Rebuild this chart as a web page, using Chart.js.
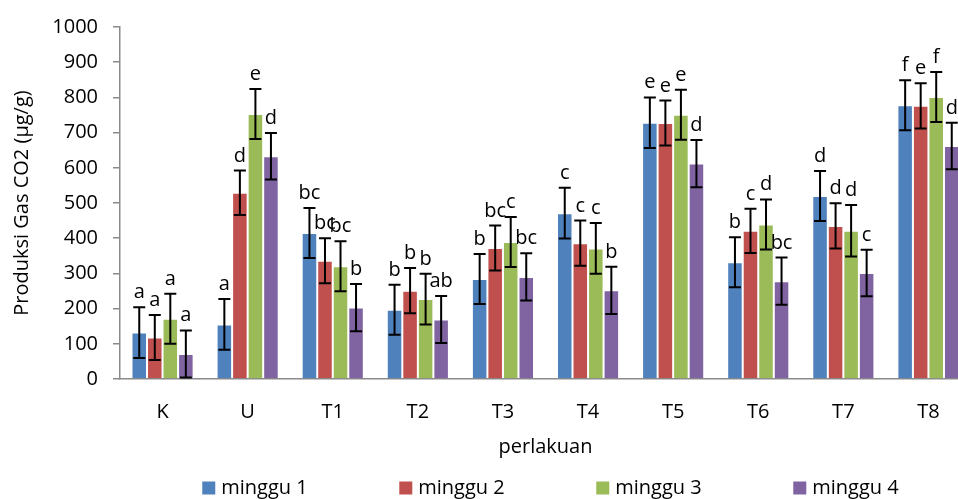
<!DOCTYPE html>
<html>
<head>
<meta charset="utf-8">
<script src="https://cdn.jsdelivr.net/npm/chart.js@4"></script>
<style>
  html, body { margin: 0; padding: 0; background: #fff; overflow: hidden; }
  #wrap { width: 972px; height: 499px; }
</style>
</head>
<body>
<div id="wrap"><canvas id="chart" width="972" height="499"></canvas></div>
<script>
const categories = ['K', 'U', 'T1', 'T2', 'T3', 'T4', 'T5', 'T6', 'T7', 'T8'];
const seriesNames = ['minggu 1', 'minggu 2', 'minggu 3', 'minggu 4'];

const minggu1 = [132, 155, 415, 197, 284, 471, 728, 332, 520, 778];
const minggu2 = [118, 529, 336, 251, 372, 386, 727, 421, 435, 776];
const minggu3 = [171, 753, 320, 227, 389, 371, 751, 439, 421, 801];
const minggu4 = [71, 633, 203, 169, 290, 252, 612, 278, 301, 662];

// error bar half-lengths (+/-)
const err1 = [72, 72, 71, 71, 71, 72, 72, 71, 71, 71];
const err2 = [64, 63, 64, 64, 64, 64, 64, 63, 64, 64];
const err3 = [71, 71, 71, 72, 71, 72, 71, 71, 73, 71];
const err4 = [67, 66, 67, 67, 67, 67, 67, 67, 66, 66];

// notation letters above each bar
const letters1 = ['a', 'a', 'bc', 'b', 'b', 'c', 'e', 'b', 'd', 'f'];
const letters2 = ['a', 'd', 'bc', 'b', 'bc', 'c', 'e', 'c', 'd', 'e'];
const letters3 = ['a', 'e', 'bc', 'b', 'c', 'c', 'e', 'd', 'd', 'f'];
const letters4 = ['a', 'd', 'b', 'ab', 'bc', 'b', 'd', 'bc', 'c', 'd'];

const yTicks = [0, 100, 200, 300, 400, 500, 600, 700, 800, 900, 1000];

const colors = ['#4F81BD', '#C0504D', '#9BBB59', '#8064A2'];
const values = [minggu1, minggu2, minggu3, minggu4];
const errors = [err1, err2, err3, err4];
const letters = [letters1, letters2, letters3, letters4];

const FONT = '"Open Sans", "Noto Sans", sans-serif';
const FS = 20;

// Error bars + letters
const errorBarPlugin = {
    id: 'errorBars',
    afterDatasetsDraw(chart) {
        const ctx = chart.ctx;
        const y = chart.scales.y;
        ctx.save();
        chart.data.datasets.forEach((ds, di) => {
            const meta = chart.getDatasetMeta(di);
            meta.data.forEach((bar, i) => {
                const v = ds.data[i];
                const e = errors[di][i];
                const top = y.getPixelForValue(v + e);
                const bot = y.getPixelForValue(Math.max(v - e, 0));
                const x = bar.x;
                ctx.strokeStyle = '#000';
                ctx.lineWidth = 2;
                ctx.beginPath();
                ctx.moveTo(x, top); ctx.lineTo(x, bot);
                ctx.moveTo(x - 6, top); ctx.lineTo(x + 6, top);
                ctx.moveTo(x - 6, bot); ctx.lineTo(x + 6, bot);
                ctx.stroke();
                ctx.fillStyle = '#000';
                ctx.font = FS + 'px ' + FONT;
                ctx.textAlign = 'center';
                ctx.textBaseline = 'alphabetic';
                ctx.fillText(letters[di][i], x, top - 9);
            });
        });
        ctx.restore();
    }
};

// Excel-like wide legend under the axis title
const legendPlugin = {
    id: 'wideLegend',
    afterDraw(chart) {
        const ctx = chart.ctx;
        const area = chart.chartArea;
        const stride = 197;
        const box = 13;
        ctx.save();
        ctx.font = FS + 'px ' + FONT;
        const lastW = box + 6 + ctx.measureText(seriesNames[3]).width;
        const total = stride * 3 + lastW;
        let x = (area.left + area.right) / 2 + 5 - total / 2;
        const cy = 488;
        seriesNames.forEach((name, i) => {
            ctx.fillStyle = colors[i];
            ctx.fillRect(x, cy - box / 2, box, box);
            ctx.fillStyle = '#000';
            ctx.textAlign = 'left';
            ctx.textBaseline = 'middle';
            ctx.fillText(name, x + box + 6, cy);
            x += stride;
        });
        ctx.restore();
    }
};

new Chart(document.getElementById('chart'), {
    type: 'bar',
    data: {
        labels: categories,
        datasets: seriesNames.map((name, i) => ({
            label: name,
            data: values[i],
            backgroundColor: colors[i],
            borderColor: 'rgba(255,255,255,0.35)',
            borderWidth: 1,
            barPercentage: 1,
            categoryPercentage: 0.73,
        })),
    },
    options: {
        responsive: false,
        animation: false,
        layout: { padding: { top: 23, right: 1, bottom: 40, left: 0 } },
        plugins: { legend: { display: false }, tooltip: { enabled: false } },
        scales: {
            x: {
                grid: { display: false, drawTicks: false },
                border: { display: true, color: '#8a8a8a', width: 1.5 },
                ticks: { color: '#000', font: { family: FONT, size: FS }, padding: 21, maxRotation: 0 },
                title: { display: true, text: 'perlakuan', color: '#000', font: { family: FONT, size: FS }, padding: { top: 0, bottom: 0 } },
                afterFit(scale) { scale.height = 80; },
            },
            y: {
                min: 0,
                max: 1000,
                afterBuildTicks(scale) { scale.ticks = yTicks.map(v => ({ value: v })); },
                grid: { display: true, drawOnChartArea: false, drawTicks: true, tickLength: 7, color: '#8a8a8a', lineWidth: 1.5 },
                border: { display: true, color: '#8a8a8a', width: 1.5 },
                ticks: { color: '#000', font: { family: FONT, size: FS }, padding: 15, callback: v => String(v) },
                title: { display: true, text: 'Produksi Gas CO2 (µg/g)', color: '#000', font: { family: FONT, size: FS }, padding: { top: 10, bottom: 0 } },
                afterFit(scale) { scale.width = 120; },
            },
        },
    },
    plugins: [errorBarPlugin, legendPlugin],
});
</script>
</body>
</html>
